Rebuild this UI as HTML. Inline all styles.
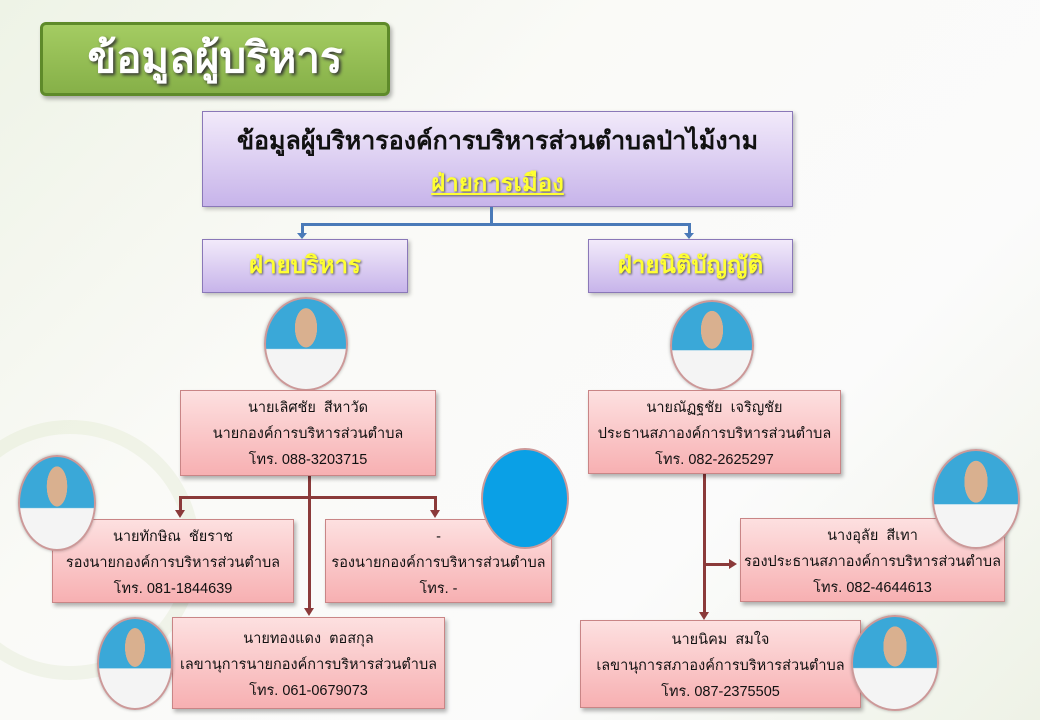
<!DOCTYPE html>
<html><head><meta charset="utf-8"><style>
body{margin:0;width:1040px;height:720px;overflow:hidden;position:relative;font-family:"Liberation Sans","DejaVu Sans",sans-serif;background:linear-gradient(135deg,#eef3e6 0%,#fafaf7 35%,#fbfbfb 70%,#eef2e6 100%);}
.a{position:absolute;box-sizing:border-box}
.pink{background:linear-gradient(#fde0e0,#f7b0b2);border:1px solid #c98586;box-shadow:2px 3px 4px rgba(0,0,0,.3);text-align:center;font-size:14.5px;color:#111;line-height:26px;padding-top:4px;white-space:nowrap}
.pur{background:linear-gradient(#f2eafa,#c7b4ea);border:1px solid #8a78b8;box-shadow:2px 2px 4px rgba(0,0,0,.25);text-align:center}
.ph{border-radius:50%;border:2px solid #c99;background:radial-gradient(ellipse 14% 22% at 50% 32%,#d9b08f 0 98%,transparent 100%),linear-gradient(#3aa8d8 55%,#f4f4f4 56%);box-shadow:0 0 3px rgba(0,0,0,.3)}
.y{color:#ffff33;font-weight:bold;font-size:24px;text-shadow:1px 1px 2px #555}
.lr{background:#8b3a3a}
.lb{background:#4a7ab8}
</style></head><body>
<div class="a" style="left:-60px;top:420px;width:260px;height:260px;border-radius:50%;border:14px solid rgba(190,210,150,.15)"></div>
<div class="a" style="left:40px;top:22px;width:350px;height:74px;background:linear-gradient(#a4cc62,#86b048);border:3px solid #5e8a2a;border-radius:6px;box-shadow:2px 3px 4px rgba(0,0,0,.3);color:#fff;font-weight:bold;font-size:42px;text-align:center;line-height:66px;text-shadow:2px 2px 3px #333">ข้อมูลผู้บริหาร</div>
<div class="a pur" style="left:202px;top:111px;width:591px;height:96px;padding-top:8px;font-size:25px;font-weight:bold;color:#111;line-height:42px;white-space:nowrap">ข้อมูลผู้บริหารองค์การบริหารส่วนตำบลป่าไม้งาม<br><span class="y" style="text-decoration:underline">ฝ่ายการเมือง</span></div>
<div class="a lb" style="left:490px;top:207px;width:3px;height:18px"></div>
<div class="a lb" style="left:301px;top:223px;width:390px;height:3px"></div>
<div class="a lb" style="left:301px;top:223px;width:3px;height:12px"></div>
<div class="a lb" style="left:688px;top:223px;width:3px;height:12px"></div>
<div class="a" style="left:297px;top:233px;border:5px solid transparent;border-top:6px solid #4a7ab8"></div>
<div class="a" style="left:684px;top:233px;border:5px solid transparent;border-top:6px solid #4a7ab8"></div>
<div class="a pur y" style="left:202px;top:239px;width:206px;height:54px;line-height:52px">ฝ่ายบริหาร</div>
<div class="a pur y" style="left:588px;top:239px;width:205px;height:54px;line-height:52px">ฝ่ายนิติบัญญัติ</div>
<div class="a ph" style="left:264px;top:297px;width:84px;height:94px"></div>
<div class="a ph" style="left:670px;top:300px;width:84px;height:91px"></div>
<div class="a lr" style="left:308px;top:476px;width:3px;height:134px"></div>
<div class="a lr" style="left:179px;top:496px;width:258px;height:3px"></div>
<div class="a lr" style="left:179px;top:496px;width:3px;height:16px"></div>
<div class="a lr" style="left:434px;top:496px;width:3px;height:16px"></div>
<div class="a" style="left:175px;top:510px;border:5px solid transparent;border-top:8px solid #8b3a3a"></div>
<div class="a" style="left:430px;top:510px;border:5px solid transparent;border-top:8px solid #8b3a3a"></div>
<div class="a" style="left:304px;top:608px;border:5px solid transparent;border-top:8px solid #8b3a3a"></div>
<div class="a lr" style="left:703px;top:474px;width:3px;height:140px"></div>
<div class="a lr" style="left:703px;top:563px;width:28px;height:3px"></div>
<div class="a" style="left:729px;top:559px;border:5px solid transparent;border-left:8px solid #8b3a3a"></div>
<div class="a" style="left:699px;top:612px;border:5px solid transparent;border-top:8px solid #8b3a3a"></div>
<div class="a pink" style="left:180px;top:390px;width:256px;height:86px">นายเลิศชัย&nbsp; สีหาวัด<br>นายกองค์การบริหารส่วนตำบล<br>โทร. 088-3203715</div>
<div class="a pink" style="left:588px;top:390px;width:253px;height:84px">นายณัฏฐชัย&nbsp; เจริญชัย<br>ประธานสภาองค์การบริหารส่วนตำบล<br>โทร. 082-2625297</div>
<div class="a pink" style="left:52px;top:519px;width:242px;height:84px">นายทักษิณ&nbsp; ชัยราช<br>รองนายกองค์การบริหารส่วนตำบล<br>โทร. 081-1844639</div>
<div class="a pink" style="left:325px;top:519px;width:227px;height:84px">-<br>รองนายกองค์การบริหารส่วนตำบล<br>โทร. -</div>
<div class="a pink" style="left:172px;top:617px;width:273px;height:92px;padding-top:8px">นายทองแดง&nbsp; ตอสกุล<br>เลขานุการนายกองค์การบริหารส่วนตำบล<br>โทร. 061-0679073</div>
<div class="a pink" style="left:740px;top:518px;width:265px;height:84px">นางอุลัย&nbsp; สีเทา<br>รองประธานสภาองค์การบริหารส่วนตำบล<br>โทร. 082-4644613</div>
<div class="a pink" style="left:580px;top:620px;width:281px;height:88px;padding-top:6px">นายนิคม&nbsp; สมใจ<br>เลขานุการสภาองค์การบริหารส่วนตำบล<br>โทร. 087-2375505</div>
<div class="a ph" style="left:18px;top:455px;width:78px;height:96px"></div>
<div class="a" style="left:481px;top:448px;width:88px;height:101px;border-radius:50%;background:#0aa0e6;border:2px solid #c99"></div>
<div class="a ph" style="left:97px;top:617px;width:76px;height:93px"></div>
<div class="a ph" style="left:932px;top:449px;width:88px;height:100px"></div>
<div class="a ph" style="left:851px;top:615px;width:88px;height:96px"></div>
</body></html>
